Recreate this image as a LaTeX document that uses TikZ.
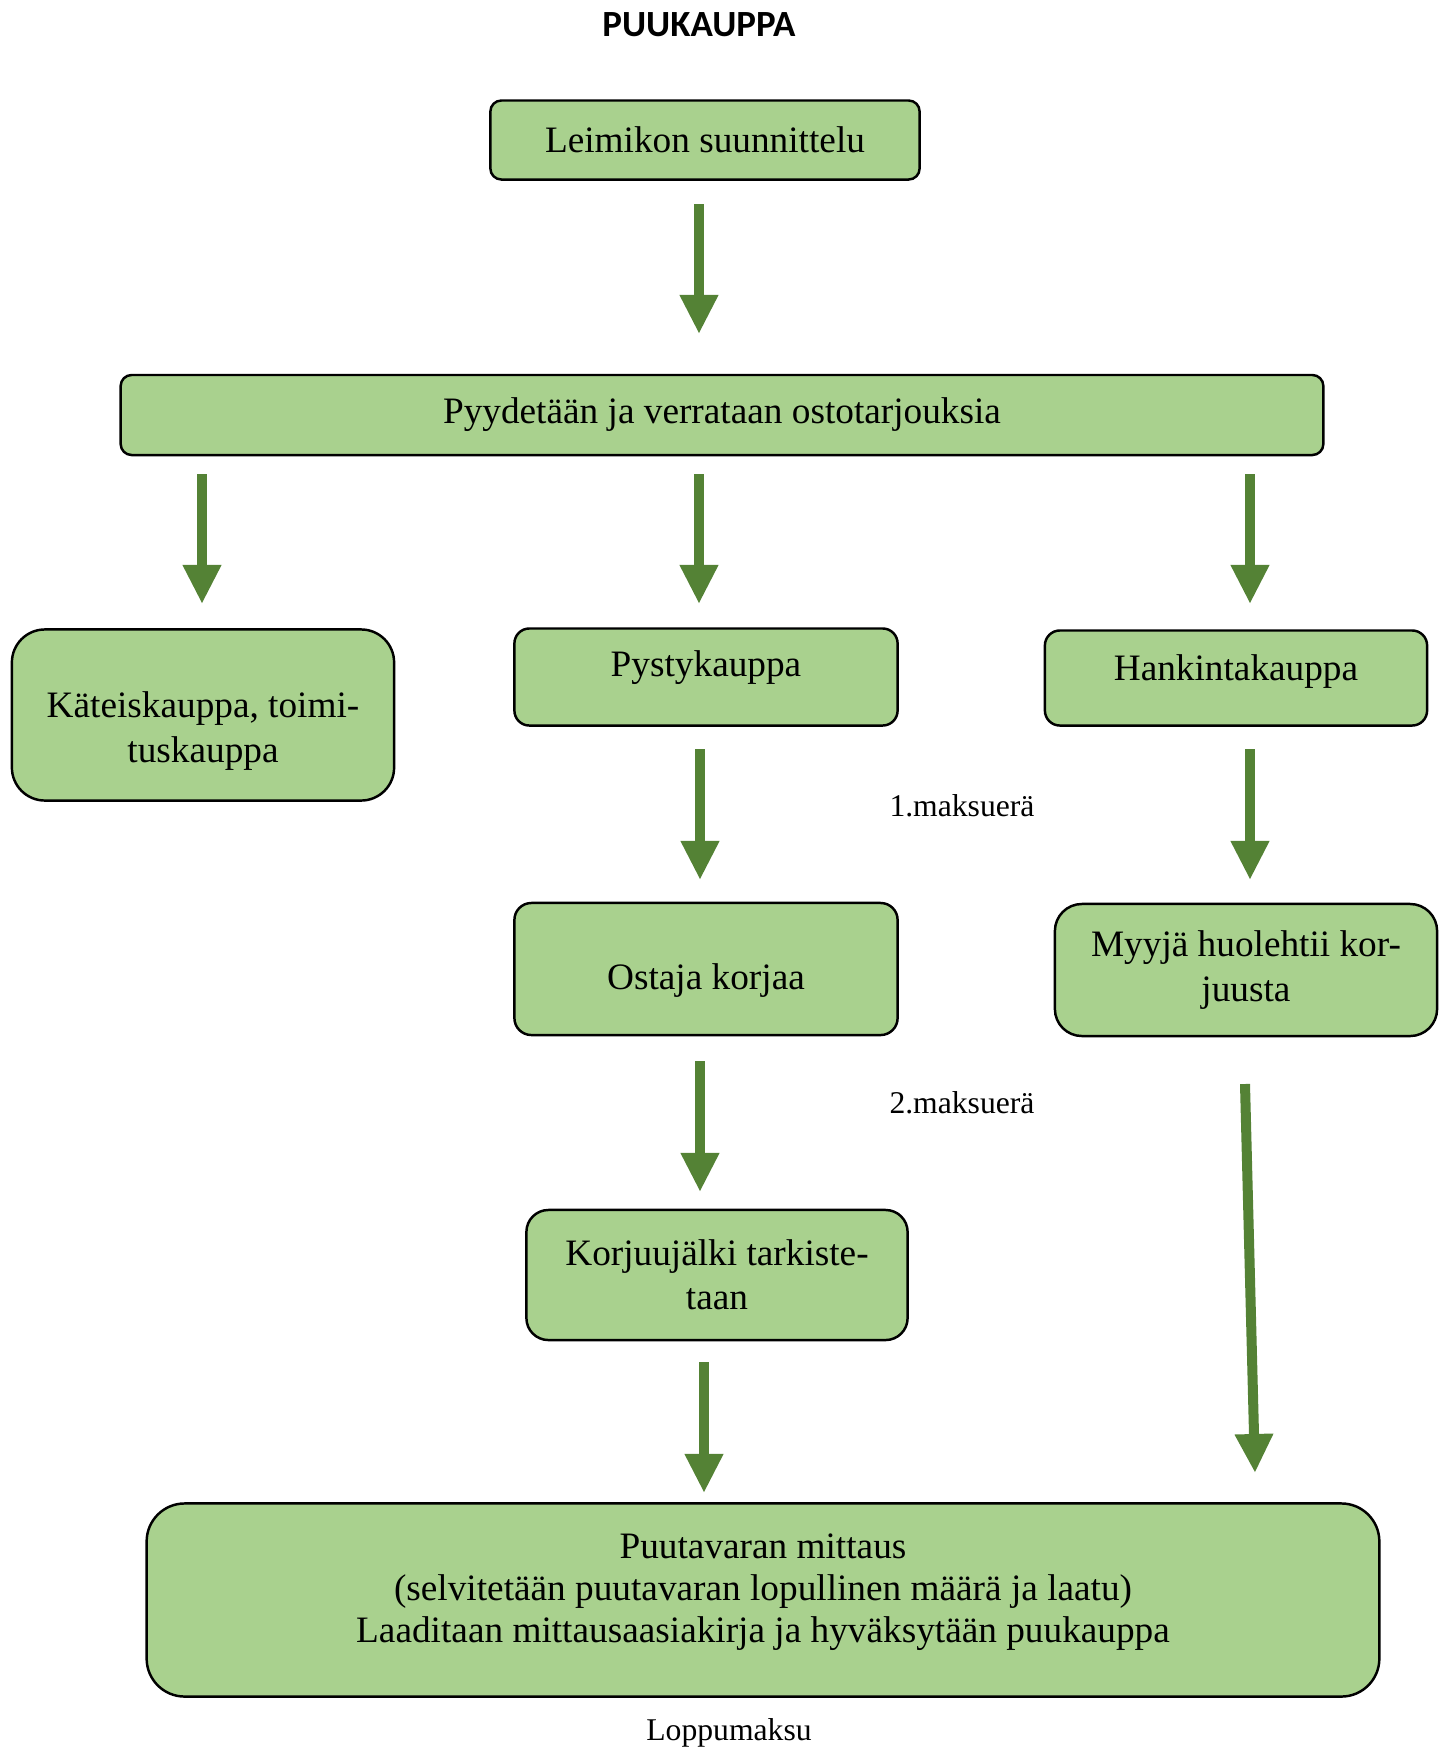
\documentclass[tikz,border=0pt]{standalone}
\usepackage{fontspec}
\setmainfont{Liberation Serif}
\newfontfamily\titrefont{Carlito}
\usetikzlibrary{arrows.meta}
\definecolor{vertclair}{HTML}{A9D18E}
\definecolor{vertfonce}{HTML}{548235}
\tikzset{
  boite/.style={draw=black,line width=0.7pt,fill=vertclair,align=center,
    font=\fontsize{10.6}{12.6}\selectfont,inner sep=0pt},
  fleche/.style={vertfonce,line width=0.1cm,-{Triangle[length=0.39cm,width=0.36cm]}},
  paiement/.style={font=\fontsize{9}{11}\selectfont}
}
\begin{document}
\begin{tikzpicture}[x=0.01cm,y=-0.01cm]
		\useasboundingbox (0,0) rectangle (1445,1748);
		% Titre
		\node [font=\titrefont\bfseries\fontsize{10.5}{12}\selectfont] (titre) at (699,25) {PUUKAUPPA};
		% Boîtes
		\node [boite,rounded corners=0.11cm,minimum width=4.29cm,minimum height=0.79cm] (leimikon) at (705,140) {Leimikon suunnittelu};
		\node [boite,rounded corners=0.11cm,minimum width=12.02cm,minimum height=0.80cm] (tarjous) at (722,415) {Pyydetään ja verrataan ostotarjouksia};
		\node [boite,rounded corners=0.33cm,minimum width=3.82cm,minimum height=1.71cm] (kateis) at (203,715) {\rule{0pt}{0.58cm}Käteiskauppa, toimi-\\tuskauppa};
		\node [boite,rounded corners=0.15cm,minimum width=3.83cm,minimum height=0.97cm,text depth=0.27cm] (pysty) at (706,677) {Pystykauppa};
		\node [boite,rounded corners=0.15cm,minimum width=3.82cm,minimum height=0.95cm,text depth=0.2cm] (hankinta) at (1236,678) {Hankintakauppa};
		\node [boite,rounded corners=0.17cm,minimum width=3.83cm,minimum height=1.32cm] (ostaja) at (706,969) {\rule{0pt}{0.48cm}Ostaja korjaa};
		\node [boite,rounded corners=0.27cm,minimum width=3.82cm,minimum height=1.32cm] (myyja) at (1246,970) {Myyjä huolehtii kor-\\juusta};
		\node [boite,rounded corners=0.22cm,minimum width=3.81cm,minimum height=1.30cm] (korjuu) at (717,1275) {Korjuujälki tarkiste-\\taan};
		\node [boite,rounded corners=0.38cm,minimum width=12.32cm,minimum height=1.93cm,font=\fontsize{10.6}{12}\selectfont] (mittaus) at (763,1600) {Puutavaran mittaus\\(selvitetään puutavaran lopullinen määrä ja laatu)\\Laaditaan mittausaasiakirja ja hyväksytään puukauppa\rule[-0.24cm]{0pt}{0pt}};
		% Maksuerät
		\node [paiement] (maksu1) at (962,806) {1.maksuerä};
		\node [paiement] (maksu2) at (962,1103) {2.maksuerä};
		\node [paiement] (loppu) at (729,1733) {Loppumaksu};
		% Flèches
		\coordinate (l1) at (699,204);    \coordinate (l2) at (699,334);
		\coordinate (t1) at (202,474);    \coordinate (t2) at (202,604);
		\coordinate (t3) at (699,474);    \coordinate (t4) at (699,604);
		\coordinate (t5) at (1250,474);   \coordinate (t6) at (1250,604);
		\coordinate (p1) at (700,749);    \coordinate (p2) at (700,880);
		\coordinate (h1) at (1250,749);   \coordinate (h2) at (1250,880);
		\coordinate (o1) at (700,1061);   \coordinate (o2) at (700,1192);
		\coordinate (k1) at (704,1362);   \coordinate (k2) at (704,1493);
		\coordinate (m1) at (1245,1084);  \coordinate (m2) at (1255,1473);
		\draw [fleche] (l1) -- (l2);
		\draw [fleche] (t1) -- (t2);
		\draw [fleche] (t3) -- (t4);
		\draw [fleche] (t5) -- (t6);
		\draw [fleche] (p1) -- (p2);
		\draw [fleche] (h1) -- (h2);
		\draw [fleche] (o1) -- (o2);
		\draw [fleche] (k1) -- (k2);
		\draw [fleche] (m1) -- (m2);
		\end{tikzpicture}
\end{document}
